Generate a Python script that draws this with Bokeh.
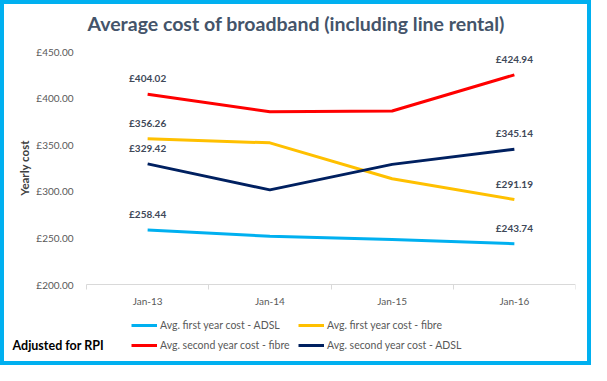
from bokeh.plotting import figure
from bokeh.models import (Range1d, LinearAxis, FixedTicker, Legend, LegendItem,
                          Label, ColumnDataSource)
from bokeh.embed import file_html
from bokeh.resources import INLINE

title_text = "Average cost of broadband  (including line rental)"
note_text = "Adjusted for RPI"
y_axis_title = "Yearly cost"

categories = ["Jan-13", "Jan-14", "Jan-15", "Jan-16"]
first_adsl = [258.44, 251.7, 248.2, 243.74]
first_fibre = [356.26, 352.0, 313.5, 291.19]
second_fibre = [404.02, 385.3, 386.2, 424.94]
second_adsl = [329.42, 301.5, 328.9, 345.14]

series_names = ["Avg. first year cost - ADSL", "Avg. first year cost - fibre",
                "Avg. second year cost - fibre", "Avg. second year cost - ADSL"]
series_values = [first_adsl, first_fibre, second_fibre, second_adsl]
series_colors = ["#00B0F0", "#FFC000", "#FF0000", "#002060"]

y_ticks = [200, 250, 300, 350, 400, 450]
y_tick_labels = ["£200.00", "£250.00", "£300.00", "£350.00", "£400.00", "£450.00"]
Y_MIN, Y_MAX = 200, 450

FONT = "Lato"
W, H = 591, 365

# pixel layout (canvas coords): the frame fills the canvas inside the 4px border,
# the plotting area (category slots, 200..450) sits inside it
FRAME_L, FRAME_R, FRAME_T, FRAME_B = 4, 575, 4, 361
PLOT_L, PLOT_T, PLOT_B = 86, 51, 284

n = len(categories)
xpos = [i + 0.5 for i in range(n)]          # category centres
edges = list(range(n + 1))                  # category boundaries

x_per_px = n / (FRAME_R - PLOT_L)
y_per_px = (Y_MAX - Y_MIN) / (PLOT_B - PLOT_T)
x_lo = 0 - (PLOT_L - FRAME_L) * x_per_px
y_lo = Y_MIN - (FRAME_B - PLOT_B) * y_per_px
y_hi = Y_MAX + (PLOT_T - FRAME_T) * y_per_px

p = figure(width=W, height=H, output_backend="svg", toolbar_location=None, title=None,
           x_range=Range1d(x_lo, n), y_range=Range1d(y_lo, y_hi),
           min_border_left=FRAME_L, min_border_right=W - FRAME_R,
           min_border_top=FRAME_T, min_border_bottom=H - FRAME_B,
           x_axis_location=None, y_axis_location=None)
p.outline_line_color = None
p.xgrid.visible = False
p.ygrid.visible = False
p.background_fill_color = None
p.border_fill_color = None
p.styles = {"box-shadow": "inset 0 0 0 4px #00B0F0", "background-color": "white"}

# y axis (fixed at the left edge of the category area)
yaxis = LinearAxis(fixed_location=0, bounds=(Y_MIN, Y_MAX), ticker=FixedTicker(ticks=y_ticks),
                   major_label_overrides={t: l for t, l in zip(y_ticks, y_tick_labels)},
                   axis_line_color=None, major_tick_line_color=None, minor_tick_line_color=None,
                   major_tick_in=0, major_tick_out=0,
                   major_label_text_font=FONT, major_label_text_font_size="10px",
                   major_label_text_color="#595959", major_label_standoff=13,
                   axis_label=y_axis_title, axis_label_text_font=FONT,
                   axis_label_text_font_style="bold", axis_label_text_font_size="11.5px",
                   axis_label_text_color="#404040", axis_label_standoff=2)
p.add_layout(yaxis, "left")

# x axis: boundary ticks (line, no labels) + category labels, fixed at y = 200
edge_axis = LinearAxis(fixed_location=Y_MIN, bounds=(0, n), ticker=FixedTicker(ticks=edges),
                       major_label_overrides={e: "" for e in edges},
                       axis_line_color="#D9D9D9", major_tick_line_color="#D9D9D9",
                       major_tick_in=0, major_tick_out=5, minor_tick_line_color=None,
                       major_label_text_font_size="10px", major_label_standoff=0)
p.add_layout(edge_axis, "below")
xaxis = LinearAxis(fixed_location=Y_MIN, bounds=(0, n), ticker=FixedTicker(ticks=xpos),
                   major_label_overrides={x: c for x, c in zip(xpos, categories)},
                   axis_line_color=None, major_tick_line_color=None, minor_tick_line_color=None,
                   major_tick_in=0, major_tick_out=0,
                   major_label_text_font=FONT, major_label_text_font_size="10px",
                   major_label_text_color="#595959", major_label_standoff=10)
p.add_layout(xaxis, "below")

items = []
for name, vals, col in zip(series_names, series_values, series_colors):
    r = p.line(xpos, vals, line_width=3, line_color=col)
    items.append(LegendItem(label=name, renderers=[r]))
    src = ColumnDataSource(dict(x=[xpos[0], xpos[-1]], y=[vals[0], vals[-1]],
                                t=["£%.2f" % vals[0], "£%.2f" % vals[-1]]))
    p.text(x="x", y="y", text="t", source=src, text_align="center", text_baseline="middle",
           y_offset=-16, text_font_size="10px", text_font_style="bold",
           text_color="#404858", text_font={"value": FONT})

legend = Legend(items=items, location=(127, 9), orientation="horizontal", ncols=2,
                border_line_color=None, background_fill_alpha=0, padding=0, margin=0,
                spacing=6, glyph_width=26, glyph_height=14, label_height=14, label_width=132,
                label_standoff=3, label_text_font=FONT, label_text_font_size="10.5px",
                label_text_color="#595959")
p.add_layout(legend, "center")

# chart title and note (screen offsets from the frame's bottom-left corner)
p.add_layout(Label(x=PLOT_L - FRAME_L + 1, y=FRAME_B - 23, x_units="screen", y_units="screen",
                   text=title_text, text_font=FONT, text_font_style="bold",
                   text_font_size="19.5px", text_color="#44546A", text_baseline="middle"))
p.add_layout(Label(x=8, y=FRAME_B - 345, x_units="screen", y_units="screen", text=note_text,
                   text_font=FONT, text_font_style="bold", text_font_size="12.5px",
                   text_color="#000000", text_baseline="middle"))

open("out.html", "w").write(file_html(p, INLINE))
